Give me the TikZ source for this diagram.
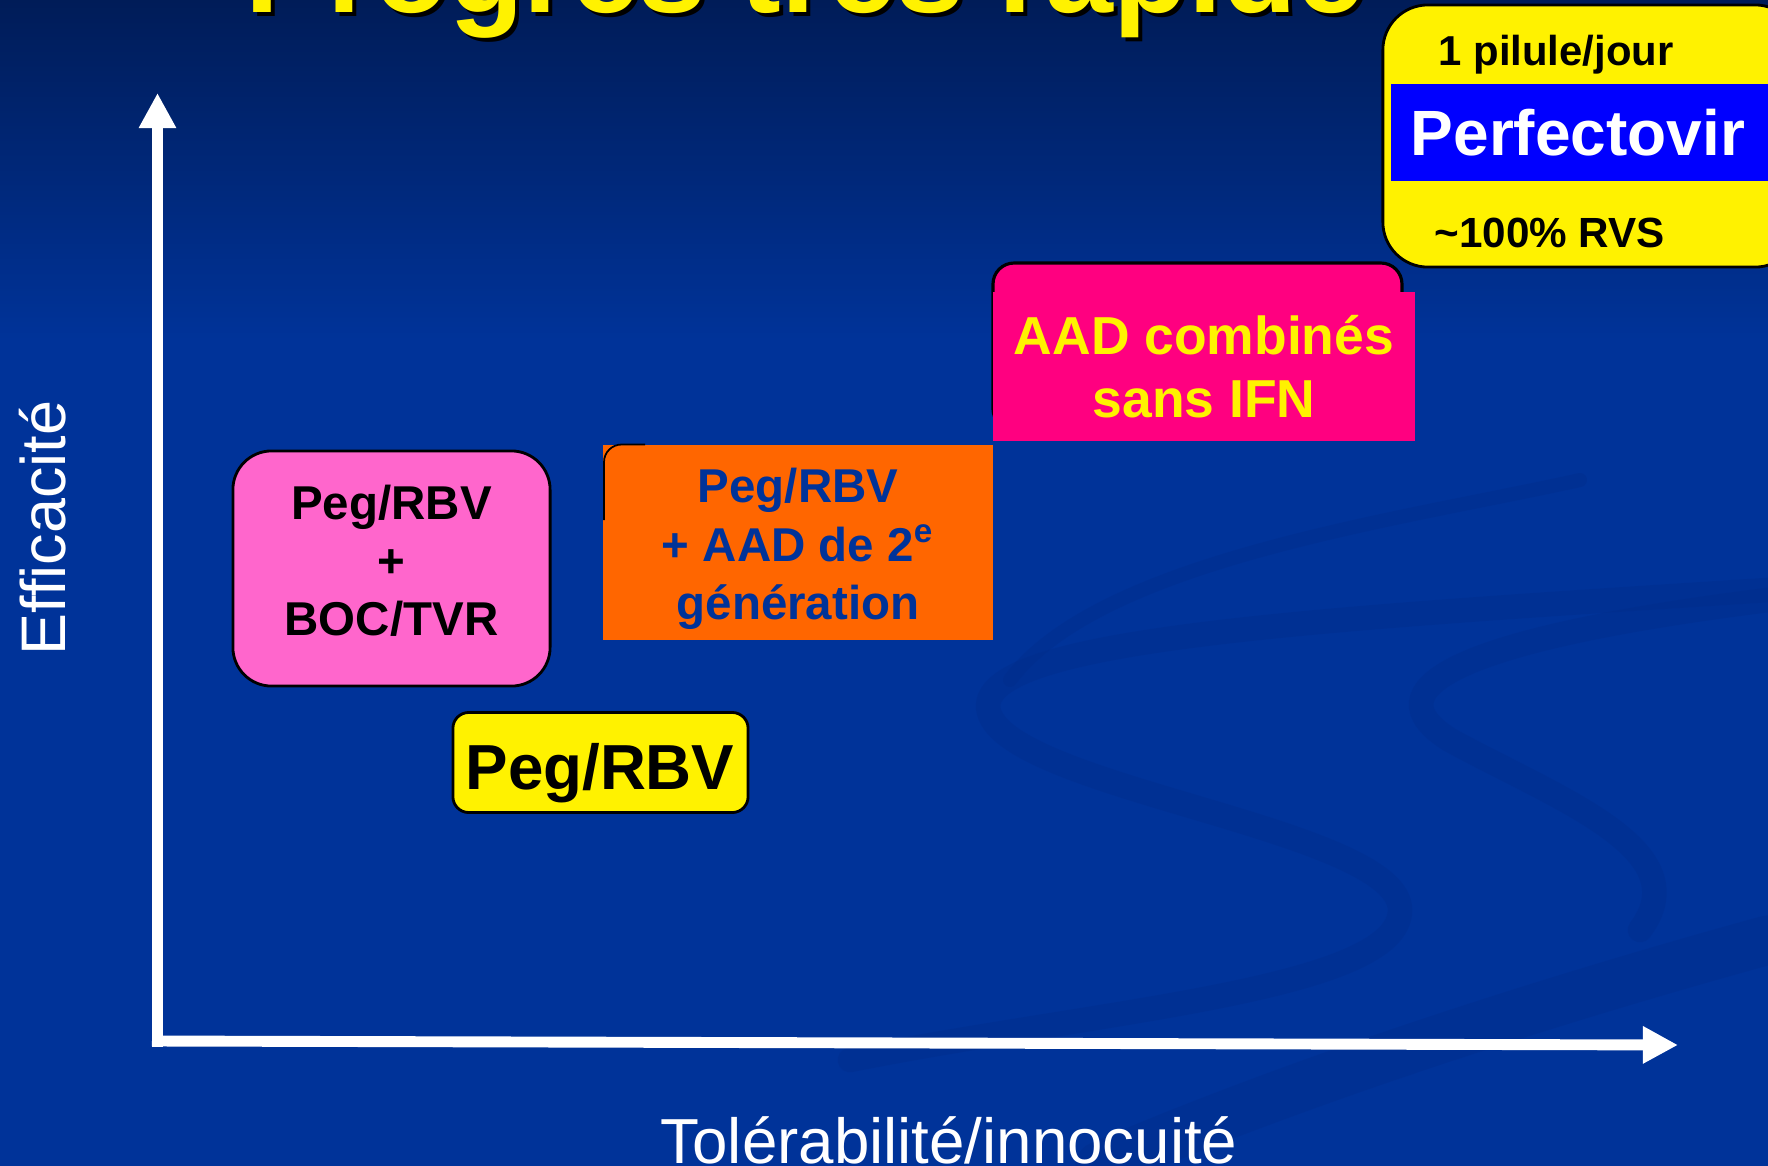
\documentclass[tikz,border=0pt]{standalone}
\usepackage{fontspec}
\setmainfont{Liberation Sans}
\usetikzlibrary{arrows.meta}
\definecolor{bgblue}{RGB}{0,51,153}
\definecolor{bgtop}{RGB}{0,28,88}
\definecolor{swirl}{RGB}{0,43,135}
\definecolor{pinkbox}{RGB}{255,102,204}
\definecolor{hotpink}{RGB}{255,0,128}
\definecolor{orangebox}{RGB}{255,102,0}
\definecolor{textblue}{RGB}{0,51,153}
\definecolor{pureblue}{RGB}{0,0,255}
\tikzset{
  axis/.style={draw=white, line width=3.1pt, -{Triangle[width=10pt,length=10pt]}},
  roundbox/.style={draw=black, line width=0.8pt, rounded corners=#1, inner sep=0pt, align=center},
  flatbox/.style={inner sep=0pt, align=center},
  swirlline/.style={draw=swirl, line width=7pt, opacity=0.3, line cap=round}
}
\begin{document}
\begin{tikzpicture}[x=0.01cm,y=-0.01cm]
\useasboundingbox (0,0) rectangle (1768,1166);
\clip (0,0) rectangle (1768,1166);
% background
\fill[bgblue] (0,0) rectangle (1768,1166);
\shade[top color=bgtop, bottom color=bgblue] (0,0) rectangle (1768,340);
% faint swirls
\draw[swirlline] (1768,590) .. controls (1300,620) and (960,640) .. (990,715)
   .. controls (1020,790) and (1400,830) .. (1400,910)
   .. controls (1400,990) and (1100,1010) .. (850,1060);
\draw[swirlline] (1768,600) .. controls (1450,640) and (1370,690) .. (1450,740)
   .. controls (1560,800) and (1700,850) .. (1640,930);
\draw[swirlline, line width=14pt] (1100,1166) .. controls (1300,1080) and (1550,1000) .. (1768,940);
\draw[swirlline, line width=4pt] (1010,680) .. controls (1100,560) and (1400,520) .. (1580,480);
% title (cut by the top edge)
\node[font=\fontsize{34.7pt}{40pt}\selectfont\bfseries, text=black, anchor=base west, inner sep=0pt] (titleshadow) at (249,16) {Progrès très rapide};
\node[font=\fontsize{34.7pt}{40pt}\selectfont\bfseries, text=yellow, anchor=base west, inner sep=0pt] (title) at (245,12.6) {Progrès très rapide};
% axes
\coordinate (ytop) at (157.5,93);
\coordinate (xend) at (1678,1045);
\coordinate (ybottom) at (157.5,1047);
\coordinate (xstart) at (152,1041);
\draw[axis] (ybottom) -- (ytop);
\draw[axis] (xstart) -- (xend);
\node[font=\fontsize{17.9pt}{20pt}\selectfont, text=white, rotate=90, anchor=base, inner sep=0pt] (ylabel) at (66,528) {Efficacité};
\node[font=\fontsize{18.1pt}{20pt}\selectfont, text=white, anchor=base, inner sep=0pt] (xlabel) at (949,1163) {Tolérabilité/innocuité};
% Peg/RBV + BOC/TVR
\node[roundbox=11pt, fill=pinkbox, minimum width=3.17cm, minimum height=2.35cm] (boc) at (391.5,568.5) {};
\node[flatbox, font=\fontsize{13.5pt}{16.5pt}\selectfont\bfseries] (boctext) at (391.5,561) {Peg/RBV\\+\\BOC/TVR};
% Peg/RBV yellow
\node[roundbox=4.5pt, fill=yellow, minimum width=2.95cm, minimum height=1.0cm] (peg) at (600.5,762.5) {};
\node[inner sep=0pt, anchor=base, font=\fontsize{18.1pt}{20pt}\selectfont\bfseries] (pegtext) at (600,789) {Peg/RBV};
% orange box
\node[flatbox, fill=orangebox, minimum width=3.90cm, minimum height=1.94cm] (aad2) at (798,542.5) {};
\node[flatbox, text=textblue, font=\fontsize{13.5pt}{16.6pt}\selectfont\bfseries] (aad2text) at (798,549) {Peg/RBV\\+ AAD de 2\textsuperscript{e}\\génération};
\draw[black, line width=0.5pt, rounded corners=5pt] (604,520) -- (604,444.5) -- (645,444.5);
% AAD combines
\draw[draw=black, line width=0.9pt, fill=hotpink, rounded corners=6pt] (993,263) rectangle (1402,430);
\node[flatbox, fill=hotpink, minimum width=4.22cm, minimum height=1.49cm, text=yellow,
      font=\fontsize{15.2pt}{18pt}\selectfont\bfseries] (aadifn) at (1204,366.5) {AAD combinés\\sans IFN};
% Perfectovir box
\node[roundbox=12.8pt, fill=yellow, minimum width=4.17cm, minimum height=2.62cm] (perfbox) at (1591.5,136) {};
\node[flatbox, fill=pureblue, minimum width=3.9cm, minimum height=0.97cm] (perfband) at (1586,132.5) {};
\node[text=white, inner sep=0pt, anchor=base, font=\fontsize{18.2pt}{20pt}\selectfont\bfseries] (perfname) at (1578,155) {Perfectovir};
\node[inner sep=0pt, anchor=base west, font=\fontsize{11.9pt}{14pt}\selectfont\bfseries] (pilule) at (1438,65) {1 pilule/jour};
\node[inner sep=0pt, anchor=base west, font=\fontsize{12pt}{14pt}\selectfont\bfseries] (rvs) at (1434,247) {\char`\~100\% RVS};
\end{tikzpicture}
\end{document}
